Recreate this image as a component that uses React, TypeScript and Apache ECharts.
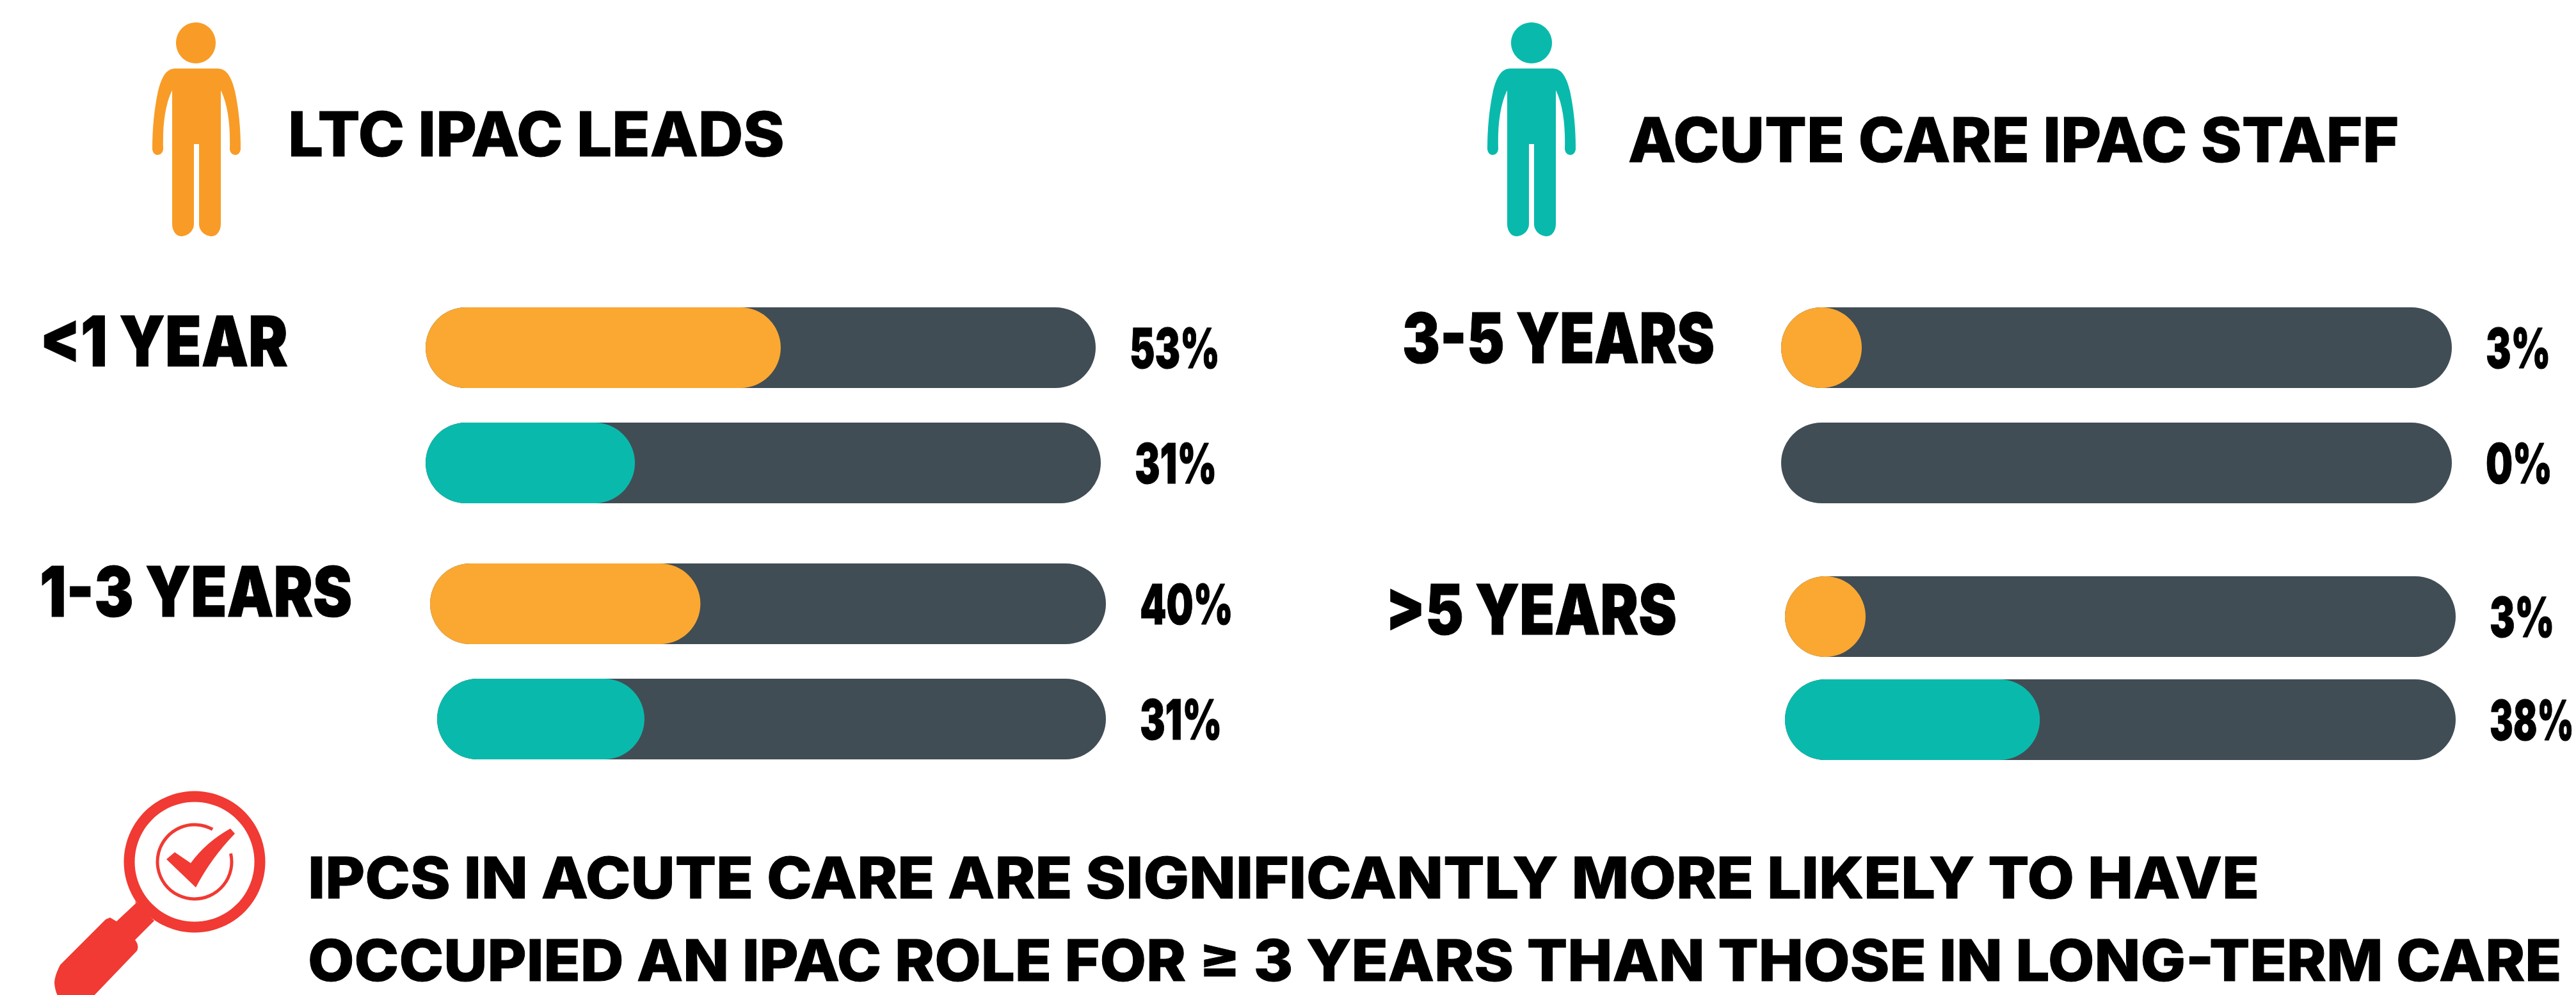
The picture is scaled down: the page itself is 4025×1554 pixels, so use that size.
import React, { useEffect, useRef } from "react";
import * as echarts from "echarts";

const categories = ["<1 YEAR", "1-3 YEARS", "3-5 YEARS", ">5 YEARS"];
const ltcShares = [53, 40, 3, 3];
const acuteShares = [31, 31, 0, 38];
const panelTitles = ["LTC IPAC LEADS", "ACUTE CARE IPAC STAFF"];
const takeawayLines = [
  "IPCS IN ACUTE CARE ARE SIGNIFICANTLY MORE LIKELY TO HAVE",
  "OCCUPIED AN IPAC ROLE FOR ≥ 3 YEARS THAN THOSE IN LONG-TERM CARE",
];

const TRACK = "#414D55";
const ORANGE = "#FAA831";
const TEAL = "#09BAAC";
const ICON_ORANGE = "#F89C27";
const RED = "#F03A33";
const BAR_H = 126;
const CANVAS_W = 4025;

// [left, top, width] of each bar's grid, in the order ltc/acute for every category
const ltcFrames = [[665, 480, 1047], [672, 880, 1056], [2783, 480, 1048], [2789, 900, 1048]];
const acuteFrames = [[665, 660, 1055], [683, 1060, 1045], [2783, 660, 1048], [2789, 1061, 1048]];
// left edge, width and vertical centre of each category label
const catLefts = [62, 62, 2191, 2165];
const catWidths = [388, 488, 488, 455];
const catCentres = [533, 924, 528, 952];

const PERSON =
  "M-33 107 L33 107 C48 107 55 122 60 142 C66 170 69 200 69 232 C69 238 65 242 61 242 C56 242 52 238 52 232 C53 200 50 165 38 141 L38 350 C38 360 32 369 24 369 C13 369 4 360 4 350 L4 225 L-4 225 L-4 350 C-4 360 -13 369 -24 369 C-32 369 -38 360 -38 350 L-38 141 C-50 165 -53 200 -52 232 C-52 238 -56 242 -61 242 C-65 242 -69 238 -69 232 C-69 200 -66 170 -60 142 C-55 122 -48 107 -33 107 Z";
const HANDLE =
  "M211 1407 L212 1411 L182 1439 L172 1433 L165 1436 L94 1507 Q85 1525 85 1535 Q86 1550 93 1560 L142 1560 L214 1485 Q218 1477 211 1468 L241 1438 Z";
const TICK =
  "M260 1342 L273 1331 L298 1348 Q322 1315 360 1294 L367 1302 Q330 1340 306 1386 Z";

echarts.graphic.registerShape("person", echarts.graphic.extendPath(PERSON, {}));
echarts.graphic.registerShape("handle", echarts.graphic.extendPath(HANDLE, {}));
echarts.graphic.registerShape("tick", echarts.graphic.extendPath(TICK, {}));

const measureCtx = document.createElement("canvas").getContext("2d")!;
function naturalWidth(text: string, weight: number, size: number) {
  measureCtx.font = `${weight} ${size}px Inter`;
  return measureCtx.measureText(text).width;
}

function fittedText(text: string, x: number, y: number, weight: number, size: number, scaleX: number, border: number) {
  return {
    type: "text",
    x,
    y,
    scaleX,
    style: {
      text,
      fontFamily: "Inter",
      fontWeight: weight,
      fontSize: size,
      lineHeight: Math.round(size * 0.8),
      fill: "#000",
      stroke: "#000",
      lineWidth: border,
      textAlign: "left",
      textVerticalAlign: "middle",
    },
  };
}

function barParts(idx: number, value: number, frame: number[], color: string, cat: string) {
  const [left, top, width] = frame;
  return {
    grid: { left, top, width, height: BAR_H, containLabel: false },
    xAxis: { gridIndex: idx, type: "value", min: 0, max: 100, show: false },
    yAxis: {
      gridIndex: idx,
      type: "category",
      data: [cat],
      axisLine: { show: false },
      axisTick: { show: false },
      splitLine: { show: false },
      axisLabel: { show: false },
    },
    series: [
      {
        type: "bar",
        xAxisIndex: idx,
        yAxisIndex: idx,
        data: [100],
        barWidth: BAR_H,
        barGap: "-100%",
        itemStyle: { color: TRACK, borderRadius: BAR_H / 2 },
        silent: true,
      },
      {
        type: "bar",
        xAxisIndex: idx,
        yAxisIndex: idx,
        data: [value === 0 ? null : value],
        barWidth: BAR_H,
        barGap: "-100%",
        barMinHeight: BAR_H,
        itemStyle: { color, borderRadius: BAR_H / 2 },
        silent: true,
      },
    ],
  };
}

export default function App() {
  const ref = useRef<HTMLDivElement>(null);
  useEffect(() => {
    const chart = echarts.init(ref.current!, null, { renderer: "svg" });
    const parts: any[] = [];
    const labels: any[] = [];
    const pctSize = 87;
    const pctScale = 141 / naturalWidth("53%", 900, pctSize);
    const addPct = (value: number, frame: number[]) => {
      const text = `${value}%`;
      const x = frame[0] + frame[2] + 53;
      const w = naturalWidth(text, 900, pctSize);
      const sx = Math.min(pctScale, (CANVAS_W - 3 - x) / w);
      labels.push(fittedText(text, x, frame[1] + BAR_H / 2, 900, pctSize, sx, 1));
    };
    categories.forEach((cat, i) => {
      parts.push(barParts(parts.length, ltcShares[i], ltcFrames[i], ORANGE, cat));
      parts.push(barParts(parts.length, acuteShares[i], acuteFrames[i], TEAL, cat));
      addPct(ltcShares[i], ltcFrames[i]);
      addPct(acuteShares[i], acuteFrames[i]);
      labels.push(
        fittedText(cat, catLefts[i], catCentres[i], 900, 108, catWidths[i] / naturalWidth(cat, 900, 108), 1)
      );
    });
    const fit = (t: string, x: number, y: number, w: number, size: number) =>
      fittedText(t, x, y, 800, size, w / naturalWidth(t, 800, size), 1);
    chart.setOption({
      animation: false,
      backgroundColor: "#fff",
      grid: parts.map((p) => p.grid),
      xAxis: parts.map((p) => p.xAxis),
      yAxis: parts.map((p) => p.yAxis),
      series: parts.flatMap((p) => p.series),
      graphic: [
        { type: "person", x: 307, y: 0, style: { fill: ICON_ORANGE } },
        { type: "ellipse", shape: { cx: 306, cy: 67, rx: 31, ry: 32 }, style: { fill: ICON_ORANGE } },
        { type: "person", x: 2393, y: 0, style: { fill: TEAL } },
        { type: "ellipse", shape: { cx: 2393, cy: 67, rx: 32, ry: 32 }, style: { fill: TEAL } },
        { type: "ring", shape: { cx: 304, cy: 1346, r: 110.5, r0: 93.5 }, style: { fill: RED } },
        { type: "handle", style: { fill: RED } },
        {
          type: "arc",
          shape: { cx: 304, cy: 1346, r: 58, startAngle: (-13 * Math.PI) / 180, endAngle: (299 * Math.PI) / 180, clockwise: true },
          style: { stroke: RED, lineWidth: 5, fill: "none" },
        },
        { type: "tick", style: { fill: RED } },
        fit(panelTitles[0], 450, 209, 776, 96),
        fit(panelTitles[1], 2544, 218, 1204, 96),
        fit(takeawayLines[0], 481, 1371, 3050, 89),
        fit(takeawayLines[1], 481, 1499, 3522, 89),
        ...labels,
      ],
    });
    return () => chart.dispose();
  }, []);
  return <div ref={ref} style={{ position: "fixed", left: 0, top: 0, width: CANVAS_W, height: 1554, background: "#fff" }} />;
}
